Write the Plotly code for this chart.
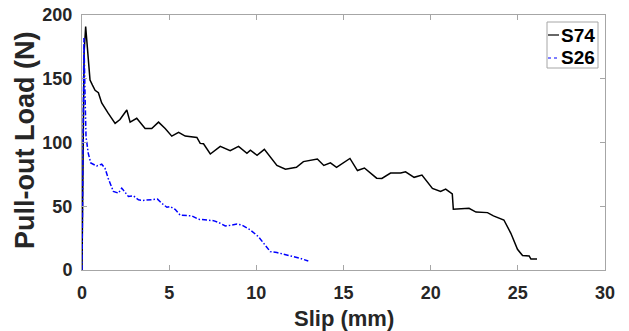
import plotly.graph_objects as go

# S74 (black solid)
s74_slip = [0, 0.05, 0.12, 0.21, 0.3, 0.46, 0.6, 0.75, 0.94, 1.13, 1.5, 1.9, 2.18, 2.57, 2.76, 3.14, 3.62, 4.0, 4.39, 4.77,
            5.15, 5.54, 5.92, 6.59, 6.78, 6.97, 7.36, 7.93, 8.5, 8.98, 9.46, 9.66, 10.04, 10.46, 11.18, 11.67, 12.3, 12.7,
            13.5, 13.87, 14.25, 14.6, 15.37, 15.8, 16.2, 16.9, 17.2, 17.7, 18.28, 18.56, 19.05, 19.5, 20.1, 20.57, 20.86,
            21.24, 21.3, 21.9, 22.2, 22.6, 23.26, 23.6, 24.2, 24.6, 24.98, 25.27, 25.65, 25.75, 26.1]
s74_load = [0, 90, 170, 191, 175, 149, 145, 141, 139, 131, 123, 115, 118, 125.5, 116, 119, 111, 111, 116, 111,
            105, 108, 105, 104, 99.3, 99, 91, 97, 93.6, 97, 91.5, 94, 90, 94.6, 82, 79, 80.5, 85,
            87, 82, 84, 80.5, 87.5, 78, 80, 72, 71.8, 76, 76, 77, 72.7, 74.5, 64, 61.6, 63.5,
            59.6, 47.6, 48, 48.4, 45.4, 45, 42.4, 39.2, 28.8, 16.2, 11.3, 11, 8.6, 8.6]

# S26 (blue dash-dot)
s26_slip = [0, 0.04, 0.08, 0.11, 0.17, 0.23, 0.36, 0.5, 0.84, 1.13, 1.32, 1.5, 1.8, 2.09, 2.28, 2.66, 2.95, 3.24, 3.52, 3.9,
            4.33, 4.58, 4.87, 5.06, 5.34, 5.63, 5.92, 6.3, 6.68, 7.07, 7.54, 7.83, 8.22, 8.5, 8.89, 9.17, 9.66, 10.13,
            10.42, 10.8, 11.18, 11.76, 12.05, 12.5, 12.98]
s26_load = [0, 80, 160, 182, 140, 104.6, 91.5, 84, 81.6, 83, 79.8, 72, 61.6, 60.3, 64.2, 57.7, 58.2, 55, 54.6, 55,
            55.6, 52.3, 49.2, 49.8, 47.6, 43, 42.8, 42.4, 39.8, 39.2, 38.7, 37.3, 34.5, 35, 36, 35.3, 31.4, 26,
            21, 14.4, 13.7, 11.8, 11, 9.2, 7]

series_names = ["S74", "S26"]
x_ticks = [0, 5, 10, 15, 20, 25, 30]
y_ticks = [0, 50, 100, 150, 200]

FONT = "Liberation Sans, Arial, sans-serif"
AX = "#a6a6a6"
TXT = "#262626"
DASHDOT = "5px,2px,1.5px,2px"

# page body has an 8px default margin -> figure is offset by (8, 8) in the window
OFF = 8
W, H = 629 - OFF, 331 - OFF
ML, MR, MT, MB = 82 - OFF, 24, 15 - OFF, 61
PW, PH = W - ML - MR, H - MT - MB


def px(xs):
    # window x pixel -> paper coordinate
    return (xs - OFF - ML) / PW


def py(ys):
    # window y pixel -> paper coordinate
    return (H - MB - (ys - OFF)) / PH


fig = go.Figure()
fig.add_trace(go.Scatter(x=s74_slip, y=s74_load, mode="lines", name=series_names[0],
                         line=dict(color="black", width=1.5), showlegend=False))
fig.add_trace(go.Scatter(x=s26_slip, y=s26_load, mode="lines", name=series_names[1],
                         line=dict(color="#0000ff", width=1.5, dash=DASHDOT), showlegend=False))

axis_common = dict(showline=True, linecolor=AX, linewidth=1, mirror="ticks",
                   ticks="inside", ticklen=5, tickcolor=AX, showgrid=False, zeroline=False,
                   automargin=False, ticklabeloverflow="allow",
                   tickfont=dict(family=FONT, size=18, color=TXT))

fig.update_xaxes(range=[0, 30], tickvals=x_ticks, ticktext=["<b>%d</b>" % v for v in x_ticks],
                 ticklabelstandoff=6, **axis_common)
fig.update_yaxes(range=[0, 200], tickvals=y_ticks, ticktext=["<b>%d</b>" % v for v in y_ticks],
                 ticklabelstandoff=5, **axis_common)

annotations = [
    dict(text="<b>Slip (mm)</b>", x=px(344), y=py(318), xref="paper", yref="paper",
         xanchor="center", yanchor="middle", showarrow=False,
         font=dict(family=FONT, size=22, color=TXT)),
    dict(text="<b>Pull-out Load (N)</b>", x=px(25), y=py(141), xref="paper", yref="paper",
         xanchor="center", yanchor="middle", showarrow=False, textangle=-90,
         font=dict(family=FONT, size=27, color=TXT)),
]

# manual legend
shapes = [
    dict(type="rect", xref="paper", yref="paper", x0=px(547), x1=px(598), y0=py(68), y1=py(22),
         line=dict(color=AX, width=1), fillcolor="white", layer="above"),
]
leg_rows = [(series_names[0], 35, "black", "solid"), (series_names[1], 58, "#0000ff", "dot")]
for name, yp, col, dash in leg_rows:
    shapes.append(dict(type="line", xref="paper", yref="paper", x0=px(548), x1=px(559), y0=py(yp), y1=py(yp),
                       line=dict(color=col, width=1.2, dash=dash), layer="above"))
    annotations.append(dict(text="<b>%s</b>" % name, x=px(559), y=py(yp), xref="paper", yref="paper",
                            xanchor="left", yanchor="middle", showarrow=False,
                            font=dict(family=FONT, size=19, color="black")))

fig.update_layout(
    width=W, height=H,
    margin=dict(l=ML, r=MR, t=MT, b=MB),
    paper_bgcolor="white", plot_bgcolor="white",
    showlegend=False,
    shapes=shapes,
    annotations=annotations,
)

fig.write_html("out.html")
